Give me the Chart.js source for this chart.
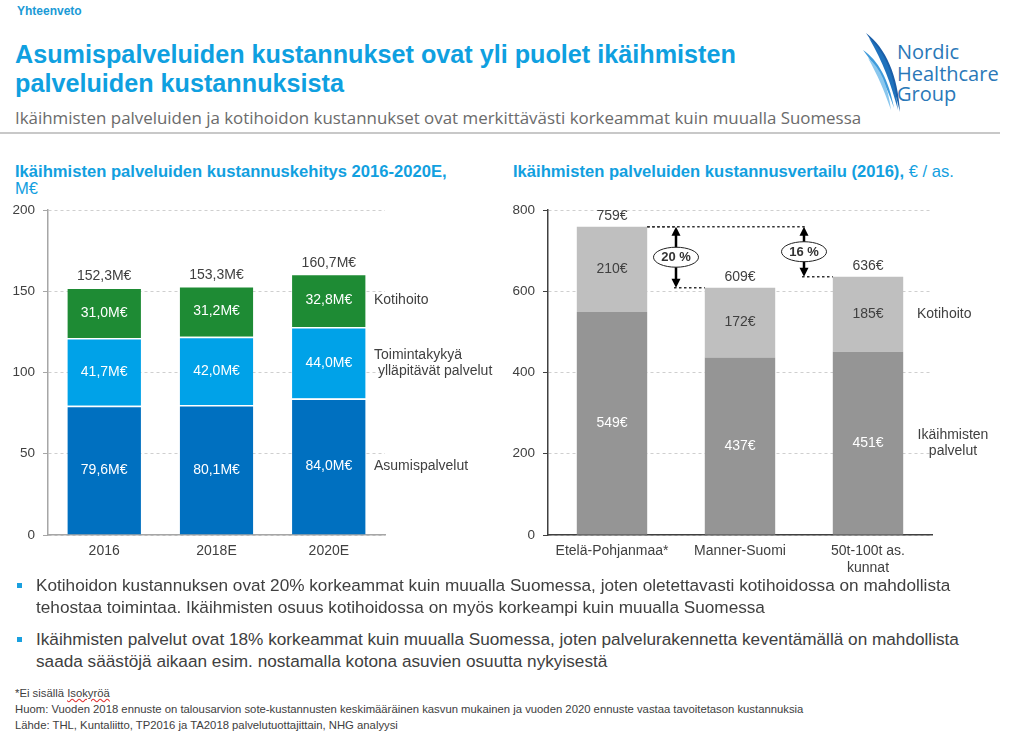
<!DOCTYPE html>
<html>
<head>
<meta charset="utf-8">
<script src="https://cdn.jsdelivr.net/npm/chart.js@4/dist/chart.umd.min.js"></script>
<style>
  html, body { margin:0; padding:0; background:#fff; }
  body { width:1024px; height:737px; position:relative; overflow:hidden; font-family:"Liberation Sans", Arial, sans-serif; }
  .abs { position:absolute; white-space:nowrap; }
  #kicker { left:17px; top:4px; font-size:12px; font-weight:bold; color:#1a9ad6; }
  #title { left:15px; top:40px; font-size:25.2px; font-weight:bold; color:#0fa0e0; line-height:29px; }
  #subtitle { left:15px; top:106px; font-family:"Open Sans","Noto Sans",sans-serif; font-size:16.9px; color:#6b6b6b; }
  #rule { left:0; top:132px; width:1000px; height:2px; background:#c8c8c8; }
  .ctitle { top:163px; font-size:16.6px; font-weight:bold; color:#12a0df; line-height:17px; }
  .ctitle span { font-weight:normal; }
  canvas { position:absolute; }
  .bullet { left:36px; font-size:17.2px; color:#404040; line-height:21.5px; }
  .sq { position:absolute; width:5px; height:5px; background:#1aa0df; }
  .foot { left:15px; font-size:11.3px; color:#404040; }
  #logo { left:860px; top:30px; }
</style>
</head>
<body>
<div class="abs" id="kicker">Yhteenveto</div>
<div class="abs" id="title">Asumispalveluiden kustannukset ovat yli puolet ikäihmisten<br>palveluiden kustannuksista</div>
<div class="abs" id="subtitle">Ikäihmisten palveluiden ja kotihoidon kustannukset ovat merkittävästi korkeammat kuin muualla Suomessa</div>
<div class="abs" id="rule"></div>

<svg class="abs" id="logo" width="160" height="90" viewBox="0 0 160 90">
  <path d="M6 3 C 26 18, 38 46, 40 82 C 33 52, 24 28, 6 3 Z" fill="#1a5ea8"/>
  <path d="M9 8 C 25 22, 35 46, 38 80 C 31 54, 23 32, 9 8 Z" fill="#1f72bd"/>
  <path d="M3 20 C 18 30, 29 50, 34 78 C 26 54, 17 38, 3 20 Z" fill="#3f9bdb"/>
  <path d="M8 28 C 21 38, 28 56, 31 80 C 24 60, 18 46, 8 28 Z" fill="#8ac7ee"/>
  <text x="37" y="29" font-family="Open Sans, Noto Sans, sans-serif" font-size="20" fill="#2a78b8">Nordic</text>
  <text x="37" y="51" font-family="Open Sans, Noto Sans, sans-serif" font-size="20" fill="#2a78b8">Healthcare</text>
  <text x="37" y="71" font-family="Open Sans, Noto Sans, sans-serif" font-size="20" fill="#2a78b8">Group</text>
</svg>

<div class="abs ctitle" style="left:15px;">Ikäihmisten palveluiden kustannuskehitys 2016-2020E,<br><span>M€</span></div>
<div class="abs ctitle" style="left:513px;">Ikäihmisten palveluiden kustannusvertailu (2016), <span>€ / as.</span></div>

<canvas id="left" width="500" height="383" style="left:0;top:194px;"></canvas>
<canvas id="right" width="524" height="383" style="left:500px;top:194px;"></canvas>

<div class="sq" style="left:17px;top:583px;"></div>
<div class="abs bullet" style="top:575px;">Kotihoidon kustannuksen ovat 20% korkeammat kuin muualla Suomessa, joten oletettavasti kotihoidossa on mahdollista<br>tehostaa toimintaa. Ikäihmisten osuus kotihoidossa on myös korkeampi kuin muualla Suomessa</div>
<div class="sq" style="left:17px;top:637px;"></div>
<div class="abs bullet" style="top:629px;">Ikäihmisten palvelut ovat 18% korkeammat kuin muualla Suomessa, joten palvelurakennetta keventämällä on mahdollista<br>saada säästöjä aikaan esim. nostamalla kotona asuvien osuutta nykyisestä</div>

<div class="abs foot" style="top:687px;">*Ei sisällä <span style="text-decoration:underline wavy #e03030;">Isokyröä</span></div>
<div class="abs foot" style="top:703px;">Huom: Vuoden 2018 ennuste on talousarvion sote-kustannusten keskimääräinen kasvun mukainen ja vuoden 2020 ennuste vastaa tavoitetason kustannuksia</div>
<div class="abs foot" style="top:719px;">Lähde: THL, Kuntaliitto, TP2016 ja TA2018 palvelutuottajittain, NHG analyysi</div>

<script>
// ---------- DATA ----------
const years = ['2016', '2018E', '2020E'];
const asumispalvelut = [79.6, 80.1, 84.0];
const toimintakyky = [41.7, 42.0, 44.0];
const kotihoito = [31.0, 31.2, 32.8];
const totalsLeft = [152.3, 153.3, 160.7];
const leftSeriesNames = ['Asumispalvelut', ['Toimintakykyä', ' ylläpitävät palvelut'], 'Kotihoito'];

const regions = ['Etelä-Pohjanmaa*', 'Manner-Suomi', ['50t-100t as.', 'kunnat']];
const ikaihmistenPalvelut = [549, 437, 451];
const kotihoitoPerAs = [210, 172, 185];
const totalsRight = [759, 609, 636];
const rightSeriesNames = [['Ikäihmisten', 'palvelut'], 'Kotihoito'];
const comparisons = [
  { from: 0, to: 1, label: '20 %' },
  { from: 0, to: 2, label: '16 %' }
];

// ---------- HELPERS ----------
const FONT = '"Liberation Sans", Arial, sans-serif';
Chart.defaults.font.family = FONT;
const fmtM = v => v.toFixed(1).replace('.', ',') + 'M€';
const fmtE = v => Math.round(v) + '€';

function labelsPlugin(opts) {
  return {
    id: 'labels_' + opts.id,
    afterDatasetsDraw(chart) {
      const ctx = chart.ctx;
      ctx.save();
      ctx.textAlign = 'center';
      ctx.textBaseline = 'middle';
      ctx.font = '14px ' + FONT;
      chart.data.datasets.forEach((ds, di) => {
        const meta = chart.getDatasetMeta(di);
        meta.data.forEach((el, i) => {
          ctx.fillStyle = opts.inner[di];
          ctx.fillText(opts.fmt(ds.data[i]), el.x, (el.y + el.base) / 2);
        });
      });
      const last = chart.getDatasetMeta(chart.data.datasets.length - 1);
      ctx.fillStyle = '#404040';
      last.data.forEach((el, i) => {
        ctx.fillText(opts.fmt(opts.totals[i]), el.x, el.y - opts.totalGap);
      });
      const area = chart.chartArea;
      chart.data.datasets.forEach((ds, di) => {
        const meta = chart.getDatasetMeta(di);
        const el = meta.data[meta.data.length - 1];
        const cy = (el.y + el.base) / 2;
        const name = opts.names[di];
        const lines = Array.isArray(name) ? name : [name];
        ctx.fillStyle = '#404040';
        ctx.textAlign = opts.nameAlign[di];
        const x = area.right + opts.nameDx[di];
        lines.forEach((ln, k) => {
          ctx.fillText(ln, x, cy + (k - (lines.length - 1) / 2) * 16);
        });
      });
      ctx.restore();
    }
  };
}

function baseOptions(yMax, step, axisColor, leftWidth, xHeight, rightPad) {
  return {
    responsive: false,
    animation: false,
    devicePixelRatio: 1,
    layout: { padding: { top: 10, right: rightPad, left: 0, bottom: 0 } },
    plugins: { legend: { display: false }, tooltip: { enabled: false } },
    scales: {
      x: {
        stacked: true,
        grid: { display: false, drawTicks: false },
        border: { display: true, color: axisColor, width: 1.5 },
        ticks: { color: '#404040', font: { size: 14 }, padding: 8, maxRotation: 0, autoSkip: false },
        afterFit(s) { s.height = xHeight; }
      },
      y: {
        stacked: true,
        min: 0, max: yMax,
        ticks: { stepSize: step, color: '#404040', font: { size: 13.5 }, padding: 8 },
        grid: { color: '#cfcfcf', lineWidth: 1, tickLength: 5, tickColor: axisColor, tickBorderDash: [] },
        border: { display: true, color: axisColor, width: 1.5, dash: [3, 3] },
        afterFit(s) { s.width = leftWidth; }
      }
    }
  };
}

// ---------- LEFT CHART ----------
new Chart(document.getElementById('left'), {
  type: 'bar',
  data: {
    labels: years,
    datasets: [
      { label: 'Asumispalvelut', data: asumispalvelut, backgroundColor: '#0070c0' },
      { label: 'Toimintakykyä ylläpitävät palvelut', data: toimintakyky, backgroundColor: '#00a2e8' },
      { label: 'Kotihoito', data: kotihoito, backgroundColor: '#1e8b34' }
    ].map(d => Object.assign(d, {
      categoryPercentage: 1, barPercentage: 0.655,
      borderColor: '#ffffff', borderWidth: { top: 1.5, bottom: 0, left: 0, right: 0 }, borderSkipped: false
    }))
  },
  options: baseOptions(200, 50, '#a6a6a6', 48, 42, 115),
  plugins: [labelsPlugin({
    id: 'l', fmt: fmtM, totals: totalsLeft, totalGap: 11,
    inner: ['#ffffff', '#ffffff', '#ffffff'],
    names: leftSeriesNames,
    nameAlign: ['left', 'left', 'left'],
    nameDx: [-11, -11, -11]
  })]
});

// ---------- RIGHT CHART ----------
const arrowPlugin = {
  id: 'arrows',
  afterDatasetsDraw(chart) {
    const ctx = chart.ctx;
    const ys = chart.scales.y;
    const last = chart.getDatasetMeta(chart.data.datasets.length - 1);
    ctx.save();
    comparisons.forEach(c => {
      const fromEl = last.data[c.from];
      const toEl = last.data[c.to];
      const prevEl = last.data[c.to - 1];
      const ax = (prevEl.x + prevEl.width / 2 + toEl.x - toEl.width / 2) / 2;
      const yTop = ys.getPixelForValue(totalsRight[c.from]);
      const yBot = ys.getPixelForValue(totalsRight[c.to]);
      ctx.strokeStyle = '#333';
      ctx.lineWidth = 1.5;
      ctx.setLineDash([2.5, 2.5]);
      ctx.beginPath();
      ctx.moveTo(fromEl.x + fromEl.width / 2, yTop);
      ctx.lineTo(ax + 2, yTop);
      ctx.moveTo(ax - 2, yBot);
      ctx.lineTo(toEl.x - toEl.width / 2, yBot);
      ctx.stroke();
      ctx.setLineDash([]);
      ctx.strokeStyle = '#000';
      ctx.fillStyle = '#000';
      ctx.lineWidth = 2.5;
      ctx.beginPath();
      ctx.moveTo(ax, yTop + 7);
      ctx.lineTo(ax, yBot - 7);
      ctx.stroke();
      ctx.beginPath();
      ctx.moveTo(ax, yTop); ctx.lineTo(ax - 4.5, yTop + 9); ctx.lineTo(ax + 4.5, yTop + 9); ctx.closePath(); ctx.fill();
      ctx.beginPath();
      ctx.moveTo(ax, yBot); ctx.lineTo(ax - 4.5, yBot - 9); ctx.lineTo(ax + 4.5, yBot - 9); ctx.closePath(); ctx.fill();
      const my = (yTop + yBot) / 2;
      ctx.beginPath();
      ctx.ellipse(ax, my, 22.5, 10, 0, 0, Math.PI * 2);
      ctx.fillStyle = '#fff';
      ctx.fill();
      ctx.lineWidth = 1;
      ctx.strokeStyle = '#222';
      ctx.stroke();
      ctx.fillStyle = '#333';
      ctx.font = 'bold 13px ' + FONT;
      ctx.textAlign = 'center';
      ctx.textBaseline = 'middle';
      ctx.fillText(c.label, ax, my + 0.5);
    });
    ctx.restore();
  }
};

new Chart(document.getElementById('right'), {
  type: 'bar',
  data: {
    labels: regions,
    datasets: [
      { label: 'Ikäihmisten palvelut', data: ikaihmistenPalvelut, backgroundColor: '#959595' },
      { label: 'Kotihoito', data: kotihoitoPerAs, backgroundColor: '#bfbfbf' }
    ].map(d => Object.assign(d, { categoryPercentage: 1, barPercentage: 0.55, borderWidth: 0 }))
  },
  options: baseOptions(800, 200, '#404040', 48, 42, 92),
  plugins: [labelsPlugin({
    id: 'r', fmt: fmtE, totals: totalsRight, totalGap: 11,
    inner: ['#ffffff', '#404040'],
    names: rightSeriesNames,
    nameAlign: ['center', 'left'],
    nameDx: [21, -15]
  }), arrowPlugin]
});
</script>
</body>
</html>
